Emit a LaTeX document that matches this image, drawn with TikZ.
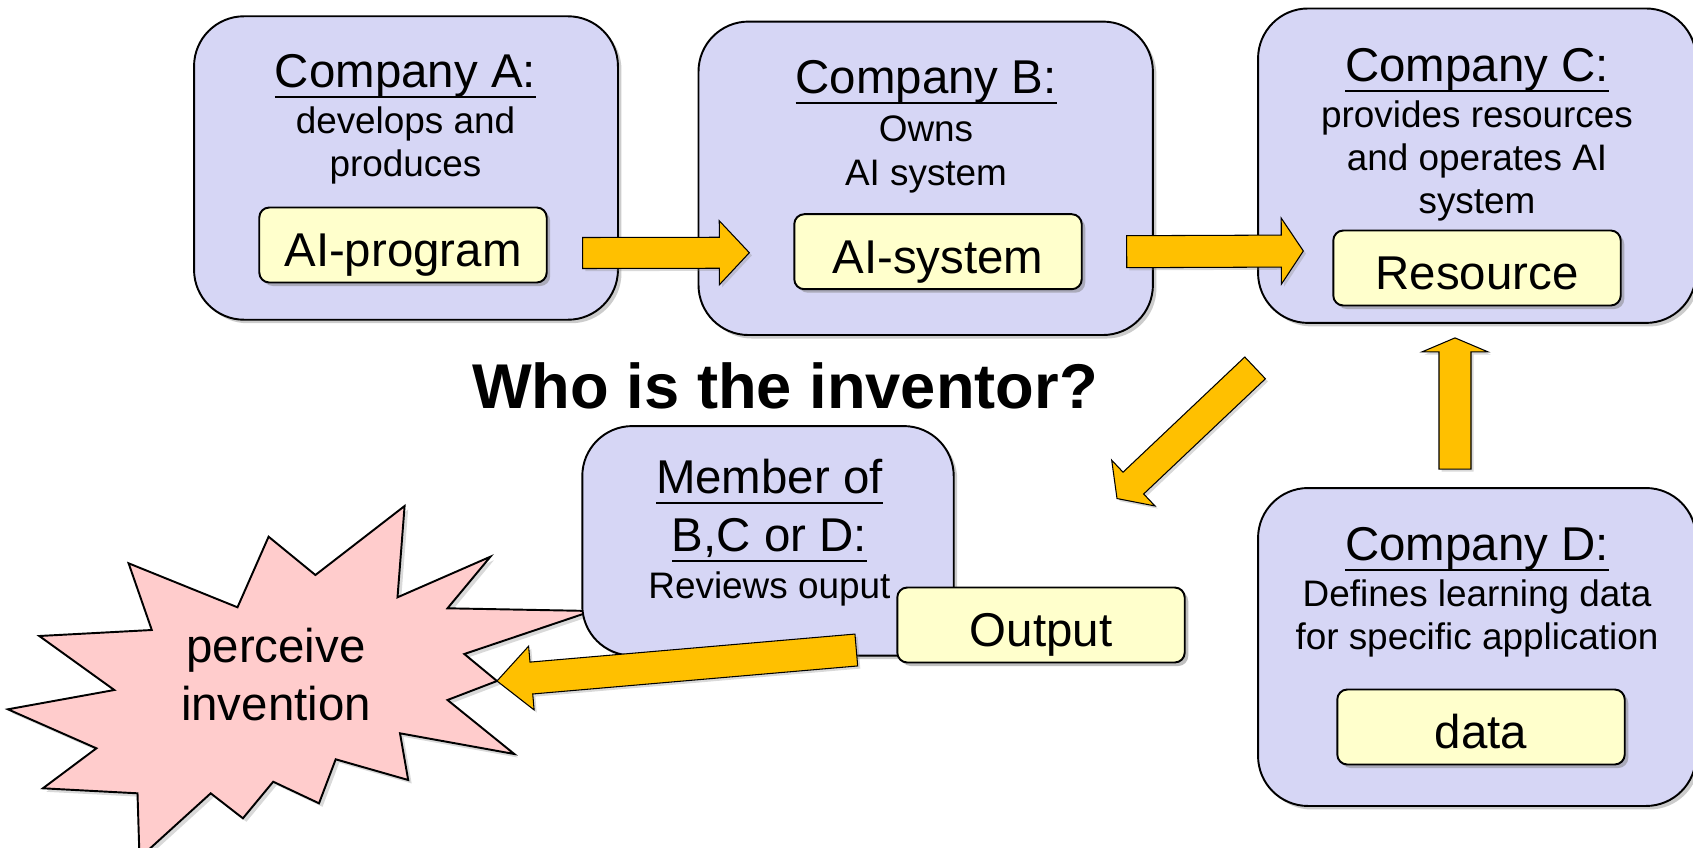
\documentclass[tikz,border=0pt]{standalone}
\usepackage{fontspec}
\setmainfont{Liberation Sans}
\usepackage{tikz}
\usetikzlibrary{calc}
\usetikzlibrary{shadows}

\definecolor{boxblue}{RGB}{214,214,245}
\definecolor{itemyellow}{RGB}{255,255,204}
\definecolor{arroworange}{RGB}{255,192,0}
\definecolor{starpink}{RGB}{255,204,204}

\newcommand{\ttlsize}{\fontsize{27}{33}\selectfont}
\newcommand{\subsize}{\fontsize{21}{24.5}\selectfont}
\newcommand{\qsize}{\fontsize{36}{40}\selectfont}

% 下線
\newsavebox{\ulsave}
\newcommand{\ulname}[1]{\sbox{\ulsave}{#1}\rlap{\rule[-5.9pt]{\wd\ulsave}{1.1pt}}\usebox{\ulsave}}

% 太い矢印: 始点, 終点, 軸の半幅, 頭の半幅, 頭の長さ
\newcommand{\blockarrow}[5]{%
  \coordinate (tl) at (#1);
  \coordinate (tp) at (#2);
  \coordinate (hb) at ($(tp)!#5!(tl)$);
  \filldraw[fatarrow]
    ($(tl)!#3!90:(tp)$) -- ($(hb)!#3!90:(tp)$) -- ($(hb)!#4!90:(tp)$) -- (tp)
    -- ($(hb)!#4!-90:(tp)$) -- ($(hb)!#3!-90:(tp)$) -- ($(tl)!#3!-90:(tp)$) -- cycle;}

\begin{document}
\begin{tikzpicture}[x=0.02cm, y=-0.02cm,
    company/.style={draw, line width=1.1pt, fill=boxblue, rounded corners=1cm, inner sep=0pt,
      drop shadow={shadow xshift=2pt, shadow yshift=-2pt, opacity=0.4}},
    item/.style={draw, line width=1.1pt, fill=itemyellow, rounded corners=0.2cm,
      minimum width=5.75cm, minimum height=1.5cm, text height=25pt, text depth=0pt, font=\ttlsize,
      drop shadow={shadow xshift=2pt, shadow yshift=-2pt, opacity=0.5}},
    ttl/.style={font=\ttlsize, anchor=base, inner sep=0pt, align=center},
    sub/.style={font=\subsize, anchor=base, inner sep=0pt, align=center},
    fatarrow/.style={fill=arroworange, draw=black, line width=0.6pt,
      drop shadow={shadow xshift=1.5pt, shadow yshift=-1.5pt, opacity=0.3}},
    burst/.style={fill=starpink, draw=black, line width=1.1pt, line join=miter,
      drop shadow={shadow xshift=2pt, shadow yshift=-2pt, opacity=0.3}}]
  \useasboundingbox (0,0) rectangle (1693,848);

  % 星
  \coordinate (startip) at (497,681);
  \filldraw[burst] (404.6,506) -- (397.5,597.3) -- (490.4,556.7) -- (447.5,608.3) -- (592,611)
    -- (464.3,654) -- (startip) -- (447.5,700) -- (514.3,754) -- (400,733.3) -- (408.2,780)
    -- (335.7,759.3) -- (319,803.3) -- (273.2,781.7) -- (242.9,818.3) -- (210.7,793.3)
    -- (139.5,858) -- (137.5,793.3) -- (42.9,788.3) -- (96.4,748.3) -- (7.9,709.3)
    -- (114.3,690) -- (39.3,636) -- (151.8,630) -- (128.6,563.3) -- (237.5,607.3)
    -- (268.6,536.7) -- (315.4,575) -- cycle;
  \node[ttl] (star) at (276,720.7) {perceive\\invention};

  % 会社
  \node[company, minimum width=8.48cm, minimum height=6.07cm] (compA) at (406,168) {};
  \node[ttl] (ttlA) at (405.5,87.3) {\ulname{Company A:}};
  \node[sub] (subA) at (405.5,176.7) {develops and\\produces};
  \node[item] (prog) at (403,245) {AI-program};

  \node[company, minimum width=9.09cm, minimum height=6.27cm] (compB) at (925.7,178.3) {};
  \node[ttl] (ttlB) at (926,93.3) {\ulname{Company B:}};
  \node[sub] (subB) at (926,185) {Owns\\AI system};
  \node[item] (sys) at (938,251.7) {AI-system};

  \node[company, minimum width=8.76cm, minimum height=6.29cm] (compC) at (1477,165.7) {};
  \node[ttl] (ttlC) at (1477,81.7) {\ulname{Company C:}};
  \node[sub] (subC) at (1477,213.3) {provides resources\\and operates AI\\system};
  \node[item] (res) at (1477,268) {Resource};

  \node[company, minimum width=8.76cm, minimum height=6.36cm] (compD) at (1477,647) {};
  \node[ttl] (ttlD) at (1477,560.5) {\ulname{Company D:}};
  \node[sub] (subD) at (1477,649.7) {Defines learning data\\for specific application};
  \node[item] (data) at (1481,727) {data};

  \node[company, minimum width=7.43cm, minimum height=4.59cm] (member) at (768,540.8) {};
  \node[ttl] (ttlM) at (769.4,551.7) {\ulname{Member of}\\\ulname{B,C or D:}};
  \node[sub] (subM) at (769.4,598.3) {Reviews ouput};
  \node[item] (out) at (1041,625) {Output};

  \node[font=\qsize\bfseries, anchor=base, inner sep=0pt] (question) at (785,408) {Who is the inventor?};

  % 矢印
  \blockarrow{$(prog.east)+(35,8)$}{$(sys.west)+(-44,1)$}{0.31cm}{0.64cm}{0.6cm}
  \blockarrow{$(sys.east)+(44,0)$}{$(res.west)+(-29,-17)$}{0.32cm}{0.66cm}{0.44cm}
  \blockarrow{$(compD.north)+(-22,-18)$}{$(compC.south)+(-22,14)$}{0.32cm}{0.66cm}{0.28cm}
  \blockarrow{$(compC.south west)+(-2,44)$}{$(out.north)+(76,-88)$}{0.3cm}{0.63cm}{0.45cm}
  \blockarrow{$(out.west)+(-40,25)$}{startip}{0.32cm}{0.64cm}{0.69cm}
\end{tikzpicture}
\end{document}
